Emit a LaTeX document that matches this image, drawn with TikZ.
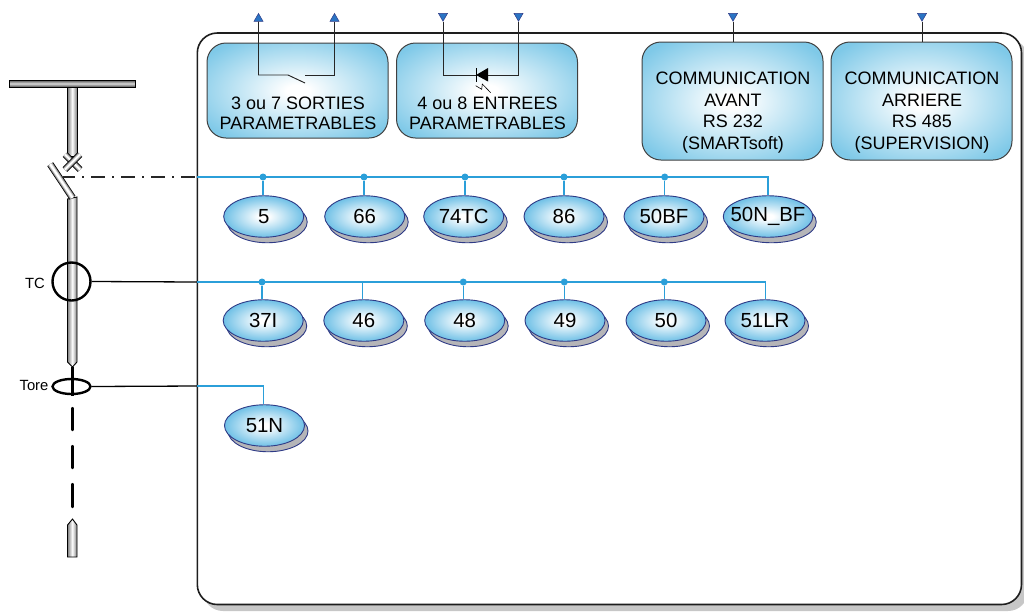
\documentclass[tikz,border=0pt]{standalone}
\usepackage{fontspec}
\setmainfont{Liberation Sans}
\usetikzlibrary{shapes.geometric,calc}
\definecolor{skyb}{HTML}{7FC9E8}
\definecolor{ringb}{HTML}{6FC0E6}
\definecolor{busb}{HTML}{2B9FD9}
\definecolor{edgeb}{HTML}{2E3A86}
\definecolor{tri}{HTML}{2A74C4}
\definecolor{shad}{HTML}{B5B5B8}
\definecolor{frame}{HTML}{1E1E1E}
\pgfdeclareradialshading{boxglow}{\pgfpoint{0bp}{0bp}}{color(0bp)=(white); color(3bp)=(white); color(31bp)=(skyb); color(100bp)=(skyb)}
\pgfdeclareradialshading{ovalglow}{\pgfpoint{0bp}{0bp}}{color(0bp)=(white); color(3bp)=(white); color(25bp)=(ringb); color(100bp)=(ringb)}
\newcommand{\steelbar}[3]{%
  \draw[black,line width=#3pt] #1--#2;
  \draw[black!45,line width=#3pt-1.6pt] #1--#2;
  \draw[black!20,line width=#3pt-3.2pt] #1--#2;
  \draw[white,line width=#3pt-4.8pt] #1--#2;
}
\tikzset{
  x=1pt,y=-1pt,
  panel/.style={draw=black!75,line width=1pt,rounded corners=19pt,shading=boxglow,minimum width=181pt,inner sep=0pt},
  paneltext/.style={inner sep=0pt,align=center,font=\fontsize{18}{20.2}\selectfont},
  commtext/.style={inner sep=0pt,align=center,font=\fontsize{18}{21.5}\selectfont},
  relay/.style={ellipse,draw=edgeb,line width=.9pt,shading=ovalglow,minimum width=80pt,minimum height=41.5pt,inner sep=0pt,font=\fontsize{20.4}{22}\selectfont},
  relaywide/.style={relay,minimum width=89.5pt},
  relayshadow/.style={ellipse,draw=edgeb,line width=.9pt,fill=shad,minimum width=80pt,minimum height=41.5pt,inner sep=0pt},
  shadowwide/.style={relayshadow,minimum width=89.5pt},
  bus/.style={draw=busb,line width=1.4pt},
  dot/.style={circle,fill=busb,minimum size=7pt,inner sep=0pt},
  wire/.style={draw=black,line width=1.3pt},
  sig/.style={draw=black!85,line width=.95pt},
  termtri/.style={regular polygon,regular polygon sides=3,fill=tri,draw=edgeb,line width=.5pt,minimum size=10.5pt,inner sep=0pt},
  termup/.style={termtri},
  termdown/.style={termtri,shape border rotate=180},
  tube/.style={draw=black,line width=.9pt,left color=black!50,right color=black!50,middle color=white},
  hbar/.style={draw=black,line width=.9pt,top color=black!70,bottom color=black!70,middle color=black!15},
  tlabel/.style={font=\fontsize{14.8}{16}\selectfont,inner sep=0pt},
}
\begin{document}
\begin{tikzpicture}
\useasboundingbox (0,0) rectangle (1024,611);
% main frame
\fill[black!22,rounded corners=20pt] (203,39) rectangle (1028,611);
\draw[frame,fill=white,line width=1.6pt,rounded corners=20pt] (197.3,33) rectangle (1021.5,604.5);

% left single-line scheme
\path[hbar] (9.5,80) rectangle (135,87);
\path[tube] (67.5,87) rectangle (77,156);
\steelbar{(65,154.5)}{(80,169.5)}{6.5}
\steelbar{(80,154.5)}{(65,169.5)}{6.5}
\path[tube] (67.5,199)--(77,197)--(77,362)--(72.5,367)--(67.5,362)--cycle;
\steelbar{(50.2,164.2)}{(72.5,197.7)}{7}
\draw[black,line width=2.4pt] (72.5,367)--(72.5,396);
\draw[black,line width=2.4pt,line cap=round] (72.5,408)--(72.5,430);
\draw[black,line width=2.4pt,line cap=round] (72.5,446)--(72.5,468);
\draw[black,line width=2.4pt,line cap=round] (72.5,484)--(72.5,507);
\path[tube] (67.5,557)--(67.5,525)--(72.5,519)--(77,525)--(77,557)--cycle;
\node[circle,draw=black,line width=2.4pt,minimum size=38pt,inner sep=0pt] (tc) at (71.5,281.5) {};
\node[ellipse,draw=black,line width=2.4pt,minimum width=38pt,minimum height=15pt,inner sep=0pt] (tore) at (71.5,386.5) {};
\node[tlabel] at (35,283) {TC};
\node[tlabel] at (34,385) {Tore};
\coordinate (sw) at (63,177);

% frame entry points
\coordinate (b1a) at (197,177);
\coordinate (b2a) at (197,282);
\coordinate (b3a) at (197,386);
\draw[black!85,line width=1.4pt,dash pattern=on 12pt off 7pt on 2pt off 7pt on 14pt off 7pt on 2pt off 7pt on 14pt off 7pt on 2pt off 7pt on 14pt off 7pt on 2pt off 7pt on 14pt off 7pt on 2pt off 7pt] (sw)--(b1a);
\draw[wire] (tc.east)--(b2a);
\draw[wire] (tore.east)--(b3a);

% relay functions
\foreach \n/\x/\t in {r1/263.7/5,r2/364.7/66,r3/463.7/74TC,r4/564/86,r5/664/50BF}{
  \node[relayshadow] at (\x+3.5,222) {};
  \node[relay] (\n) at (\x,216.5) {\makebox[0pt]{\t}};
}
\node[shadowwide] at (771.5,222) {};
\node[relaywide] (r6) at (768,216.5) {\makebox[0pt]{50N\_BF}};
\foreach \n/\x/\t in {s1/263.2/37I,s2/363.8/46,s3/464.7/48,s4/565/49,s5/666/50,s6/765/51LR}{
  \node[relayshadow] at (\x+3.5,326) {};
  \node[relay] (\n) at (\x,320.5) {\makebox[0pt]{\t}};
}
\node[relayshadow] at (268,431) {};
\node[relay] (t1) at (264.5,425.5) {\makebox[0pt]{51N}};

% buses
\coordinate (b1e) at (768,177);
\coordinate (b2e) at (765.7,282);
\coordinate (b3e) at (263.5,386);
\draw[bus] (b1a)--(b1e)--(b1e|-r6.north);
\draw[bus] (b2a)--(b2e)--(b2e|-s6.north);
\draw[bus] (b3a)--(b3e)--(b3e|-t1.north);
\foreach \n/\x in {r1/263,r2/364,r3/465,r4/564,r5/664.7}{
  \node[dot] (d\n) at (\x,177) {};
  \draw[bus] (d\n)--(d\n|-\n.north);
}
\foreach \n/\x in {s1/262,s3/463.3,s4/564.3,s5/664.3}{
  \node[dot] (d\n) at (\x,282) {};
  \draw[bus] (d\n)--(d\n|-\n.north);
}
\coordinate (js2) at (362.3,282);
\draw[bus] (js2)--(js2|-s2.north);

% panels
\node[panel,minimum height=95pt] (p1) at (297.5,90.5) {};
\node[panel,minimum height=95pt] (p2) at (487,90.5) {};
\node[panel,minimum height=118pt] (p3) at (732.5,101) {};
\node[panel,minimum height=118pt] (p4) at (921.5,101) {};
\node[paneltext] at (298,113.5) {3 ou 7 SORTIES\\PARAMETRABLES};
\node[paneltext] at (487.5,113.5) {4 ou 8 ENTREES\\PARAMETRABLES};
\node[commtext] at (733,112.5) {COMMUNICATION\\AVANT\\RS 232\\(SMARTsoft)};
\node[commtext] at (922,112.5) {COMMUNICATION\\ARRIERE\\RS 485\\(SUPERVISION)};

% terminals
\node[termup] (o1) at (258.5,18.7) {};
\node[termup] (o2) at (334.5,18.7) {};
\node[termdown] (i1) at (443,16) {};
\node[termdown] (i2) at (518.5,16) {};
\node[termdown] (c1) at (733,16) {};
\node[termdown] (c2) at (922,16) {};
\coordinate (o1b) at (258.5,75);
\coordinate (o1c) at (288,75);
\coordinate (o1d) at (305,83);
\coordinate (o2c) at (305,75);
\coordinate (o2b) at (334.5,75);
\draw[sig] (o1.south)--(o1b)--(o1c)--(o1d);
\draw[sig] (o2c)--(o2b)--(o2.south);
\coordinate (i1b) at (443,75);
\coordinate (da) at (476,75);
\coordinate (dc) at (488,75);
\coordinate (i2b) at (518.5,75);
\draw[sig] (i1.south)--(i1b)--(da);
\draw[sig] (dc)--(i2b)--(i2.south);
\fill[black] (da)--(488,68)--(488,81.5)--cycle;
\draw[black,line width=.7pt] (476,68)--(476,81.5);
\draw[black,line width=.6pt] (475.7,85.7)--(481.7,89.3)--(482.3,84)--(490.7,92.7);
\draw[sig] (c1.south)--(c1.south|-p3.north);
\draw[sig] (c2.south)--(c2.south|-p4.north);
\end{tikzpicture}
\end{document}
